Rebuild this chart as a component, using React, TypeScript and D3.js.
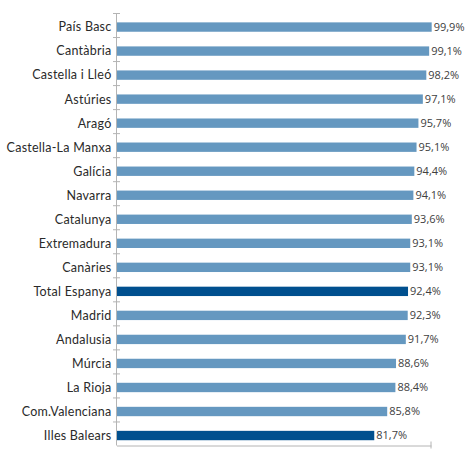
import * as d3 from "d3";
import { useEffect, useRef } from "react";

const categories = [
  "País Basc",
  "Cantàbria",
  "Castella i Lleó",
  "Astúries",
  "Aragó",
  "Castella-La Manxa",
  "Galícia",
  "Navarra",
  "Catalunya",
  "Extremadura",
  "Canàries",
  "Total Espanya",
  "Madrid",
  "Andalusia",
  "Múrcia",
  "La Rioja",
  "Com.Valenciana",
  "Illes Balears",
];
const values = [99.9, 99.1, 98.2, 97.1, 95.7, 95.1, 94.4, 94.1, 93.6, 93.1, 93.1, 92.4, 92.3, 91.7, 88.6, 88.4, 85.8, 81.7];
const highlighted = ["Total Espanya", "Illes Balears"];

const width = 470;
const height = 449;
const left = 116.5;
const top = 13;
const bottom = 445.5;

function App() {
  const ref = useRef<SVGSVGElement>(null);

  useEffect(() => {
    const svg = d3.select(ref.current);
    svg.selectAll("*").remove();

    const x = d3.scaleLinear().domain([0, 100]).range([left, 432]);
    const y = d3.scaleBand().domain(categories).range([top, bottom]);
    const bw = y.bandwidth();

    // bars
    svg
      .append("g")
      .selectAll("rect")
      .data(categories)
      .enter()
      .append("rect")
      .attr("x", x(0))
      .attr("y", (d) => (y(d) as number) + bw * 0.39)
      .attr("height", bw * 0.39)
      .attr("width", (d, i) => x(values[i]) - x(0))
      .attr("fill", (d) => (highlighted.includes(d) ? "#00508F" : "#6598C0"));

    // y axis line + cross ticks at band edges
    const axisColor = "#b4b4b4";
    svg
      .append("line")
      .attr("x1", left)
      .attr("x2", left)
      .attr("y1", top)
      .attr("y2", bottom)
      .attr("stroke", axisColor);
    const edges = categories.map((c) => y(c) as number);
    svg
      .append("g")
      .selectAll("line")
      .data(edges)
      .enter()
      .append("line")
      .attr("x1", left - 3.5)
      .attr("x2", left + 3.5)
      .attr("y1", (d) => d + 0.5)
      .attr("y2", (d) => d + 0.5)
      .attr("stroke", axisColor);

    // x axis
    const xAxis = svg
      .append("g")
      .attr("transform", `translate(0,${bottom})`)
      .call(d3.axisBottom(x.copy().range([left, 431])).tickValues([100]).tickSizeInner(0).tickSizeOuter(0).tickFormat(() => ""));
    xAxis.select(".domain").attr("stroke", axisColor);
    svg
      .append("line")
      .attr("x1", 431)
      .attr("x2", 431)
      .attr("y1", bottom - 4)
      .attr("y2", bottom + 3)
      .attr("stroke", axisColor);

    // category labels
    svg
      .append("g")
      .selectAll("text")
      .data(categories)
      .enter()
      .append("text")
      .attr("x", left - 5)
      .attr("y", (d) => (y(d) as number) + bw * 0.585)
      .attr("dy", "0.35em")
      .attr("text-anchor", "end")
      .style("font-family", "Lato, sans-serif")
      .style("font-size", "12.5px")
      .style("letter-spacing", "0.25px")
      .style("fill", "#2a2a2a")
      .text((d) => d);

    // value labels
    svg
      .append("g")
      .selectAll("text")
      .data(categories)
      .enter()
      .append("text")
      .attr("x", (d, i) => x(values[i]) + 2)
      .attr("y", (d) => (y(d) as number) + bw * 0.585)
      .attr("dy", "0.35em")
      .style("font-family", "'Open Sans', sans-serif")
      .style("font-size", "11px")
      .style("fill", "#404040")
      .text((d, i) => values[i].toFixed(1).replace(".", ",") + "%");
  }, []);

  return (
    <svg
      ref={ref}
      width={width}
      height={height}
      style={{ position: "absolute", left: 0, top: 0, background: "#fff" }}
    ></svg>
  );
}

export default App;
